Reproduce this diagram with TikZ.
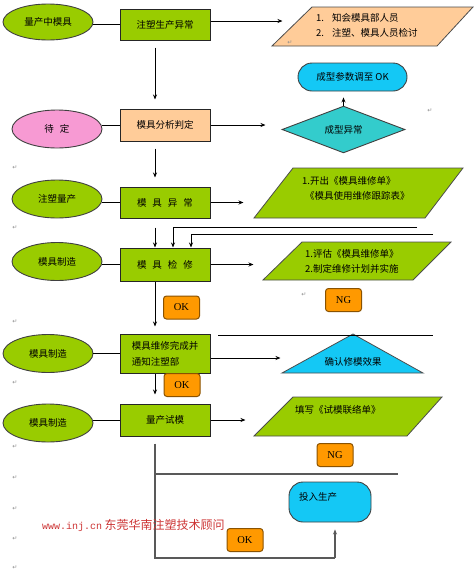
\documentclass[tikz,border=0pt]{standalone}
\usepackage{fontspec}
\setmainfont{Liberation Serif}
\newfontfamily\cjk{Noto Sans CJK SC}
\newfontfamily\symf{DejaVu Sans}
\newfontfamily\monof{Liberation Mono}
\usetikzlibrary{arrows.meta,shapes.geometric,calc}
\definecolor{gr}{HTML}{99CC00}
\definecolor{peach}{HTML}{FFCC99}
\definecolor{pk}{HTML}{F79AD3}
\definecolor{cy}{HTML}{14C8F5}
\definecolor{teal}{HTML}{33CCCC}
\definecolor{orng}{HTML}{FF9900}
\definecolor{okdraw}{HTML}{8A5200}
\definecolor{wm}{HTML}{CC3333}
\tikzset{
  ell/.style={ellipse, draw=black!75, line width=0.9pt, minimum width=90pt, minimum height=38pt, inner sep=0pt, font=\cjk\fontsize{9.5}{12}\selectfont},
  box/.style={rectangle, draw=black!85, line width=1pt, minimum width=90pt, minimum height=31pt, inner sep=2pt, align=left, font=\cjk\fontsize{9.5}{16}\selectfont},
  arr/.style={-{Stealth[length=5pt,width=4pt]}, line width=0.8pt},
  ln/.style={line width=0.8pt},
  lg/.style={line width=1.2pt, draw=black!65},
  okb/.style={rectangle, rounded corners=3pt, fill=orng, draw=okdraw, line width=1pt, minimum width=36pt, minimum height=23pt, inner sep=0pt, font=\fontsize{10.5}{12}\selectfont},
  pg/.style={draw=black!70, line width=0.8pt},
  txt/.style={font=\cjk\fontsize{9.5}{15}\selectfont, align=left, inner sep=0pt},
  stad/.style={rectangle, rounded corners=14pt, draw=black!75, line width=0.9pt, fill=cy, inner sep=0pt, font=\cjk\fontsize{9.5}{12}\selectfont},
  ret/.style={font=\symf\fontsize{6}{7}\selectfont, text=black!45, inner sep=0pt}
}
\begin{document}
\begin{tikzpicture}[x=1pt,y=-1pt]
\useasboundingbox (0,0) rectangle (474,571);
% left ellipses
\node[ell, fill=gr, minimum height=36pt] (e1) at (48,22) {量产中模具};
\node[ell, fill=pk] (e2) at (57,129) {待\hspace{6pt}定};
\node[ell, fill=gr] (e3) at (57,199) {注塑量产};
\node[ell, fill=gr] (e4) at (57,261.5) {模具制造};
\node[ell, fill=gr] (e5) at (48,353.5) {模具制造};
\node[ell, fill=gr] (e6) at (48,423) {模具制造};
% main boxes
\node[box, fill=gr] (B1) at (165,24.5) {注塑生产异常};
\node[box, fill=peach, minimum height=32pt] (B2) at (165,125) {模具分析判定};
\node[box, fill=gr] (B3) at (165,202.5) {模\hspace{6pt}具\hspace{6pt}异\hspace{6pt}常};
\node[box, fill=gr, minimum height=33pt] (B4) at (165,264.5) {模\hspace{6pt}具\hspace{6pt}检\hspace{6pt}修};
\node[box, fill=gr, minimum height=39pt] (B5) at (165,353.5) {模具维修完成并\\通知注塑部};
\node[box, fill=gr, minimum height=32pt] (B6) at (165,420) {量产试模};
% ellipse to box lines
\draw[ln] (e1.east |- B1.west) -- (B1.west);
\draw[ln] (e2.east |- B2.west) -- (B2.west);
\draw[ln] (e3.east |- B3.west) -- (B3.west);
\draw[ln] (e4.east |- B4.west) -- (B4.west);
\draw[ln] (e5.east |- B5.west) -- (B5.west);
\draw[ln] (e6.east |- B6.west) -- (B6.west);
% right column shapes
\draw[pg, fill=peach] (272,46) -- (312,7) -- (473,7) -- (437,46) -- cycle;
\node[txt, anchor=west] (P1) at (316,25) {1.\hspace{8pt}知会模具部人员\\2.\hspace{8pt}注塑、模具人员检讨};
\node[stad, minimum width=109pt, minimum height=28pt] (S1) at (352.5,77) {成型参数调至 OK};
\node[diamond, draw=black!75, line width=0.9pt, fill=teal, minimum width=123pt, minimum height=39pt, inner sep=0pt, font=\cjk\fontsize{9.5}{12}\selectfont] (D) at (343.5,129.5) {成型异常};
\draw[pg, fill=gr] (254,218) -- (293,168) -- (463,168) -- (425,218) -- cycle;
\node[txt, anchor=west] (P2) at (302,188) {1.开出《模具维修单》\\\hspace{3pt}《模具使用维修跟踪表》};
\draw[pg, fill=gr] (263,280) -- (302,242) -- (451,242) -- (413,280) -- cycle;
\node[txt, anchor=west] (P3) at (305,261.5) {1.评估《模具维修单》\\2.制定维修计划并实施};
\draw[pg, fill=cy] (282,373) -- (353,334) -- (423,373) -- cycle;
\node[txt] (T) at (353,362) {确认修模效果};
\draw[pg, fill=gr] (254,436) -- (293,397) -- (442,397) -- (407,436) -- cycle;
\node[txt, anchor=west] (P4) at (295,410) {填写《试模联络单》};
\node[stad, minimum width=82pt, minimum height=40pt] (T2) at (330,502) {};
\node[txt] (T2t) at (318,497) {投入生产};
% OK / NG tags
\node[okb] (OK1) at (181.5,307.5) {OK};
\node[okb] (OK2) at (182,385) {OK};
\node[okb] (NG1) at (343.5,300) {NG};
\node[okb] (NG2) at (335,455) {NG};
\node[okb] (OK3) at (245,540) {OK};
% vertical flow
\coordinate (V) at (155,0);
\coordinate (V2) at (173,0);
\coordinate (V3) at (191,0);
\draw[arr, shorten <=7pt, shorten >=9pt] (B1.south -| V) -- (B2.north -| V);
\draw[arr, shorten <=7pt, shorten >=9pt] (B2.south -| V) -- (B3.north -| V);
\draw[arr, shorten <=9pt] (B3.south -| V) -- (B4.north -| V);
\coordinate (f1) at (417,227);
\coordinate (f2) at (433,234);
\draw[arr] (f1) -- (f1 -| V2) -- (B4.north -| V2);
\draw[arr] (f2) -- (f2 -| V3) -- (B4.north -| V3);
\draw[arr, shorten >=7pt] (B4.south -| V) -- (B5.north -| V);
\draw[arr, shorten >=9pt] (B5.south -| V) -- (B6.north -| V);
\coordinate (c1) at (155,558);
\coordinate (c2) at (398,474);
\coordinate (c3) at (335,558);
\draw[lg, shorten <=7pt] (B6.south -| V) -- (c1) -- (c3);
\draw[lg, -{Stealth[length=5pt,width=4pt]}, shorten >=7pt] (c3) -- (c3 |- T2.south);
\draw[lg] (c2 -| V) -- (c2);
% right arrows
\draw[arr] ([yshift=3.5pt]B1.east) -- ++(72,0);
\draw[arr] (B2.east) -- ++(55,0);
\draw[arr] (B3.east) -- ++(33,0);
\draw[arr] (B4.east) -- ++(43,0);
\draw[arr] ([yshift=-4.5pt]B5.east) -- ++(70,0);
\draw[arr] (B6.east) -- ++(35,0);
\draw[arr, shorten >=6pt] (D.north) -- (D.north |- S1.south);
\coordinate (h1) at (218,335);
\coordinate (h2) at (433,335);
\draw[ln] (h1) -- (h2);
% watermark
\node[anchor=west, text=wm, inner sep=0pt] (W) at (42,525) {{\monof\fontsize{10}{12}\selectfont www.inj.cn} {\cjk\fontsize{12}{14}\selectfont 东莞华南注塑技术顾问}};
% paragraph marks
\foreach \yy in {168,228,322,383,447,478,509,539,568} \node[ret] at (15,\yy) {↵};
\node[ret] at (430,111) {↵};
\node[ret] at (304,295) {↵};
\node[ret] at (290,43) {↵};
\end{tikzpicture}
\end{document}
